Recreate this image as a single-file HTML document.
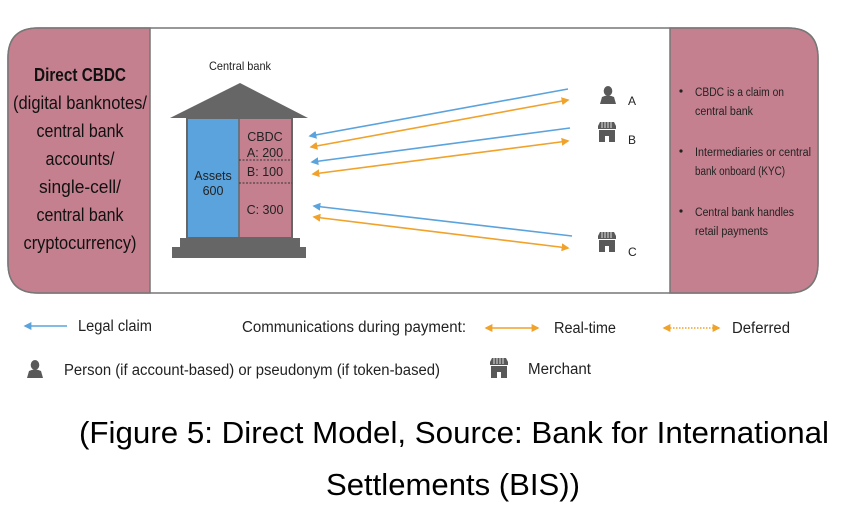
<!DOCTYPE html>
<html><head><meta charset="utf-8"><style>
html,body{margin:0;padding:0;background:#fff;}
svg{display:block;font-family:"Liberation Sans",sans-serif;}
</style></head><body>
<svg width="841" height="513" viewBox="0 0 841 513" xmlns="http://www.w3.org/2000/svg">
<defs>
<marker id="oh" viewBox="0 0 10 10" refX="8" refY="5" markerWidth="8" markerHeight="8" orient="auto-start-reverse" markerUnits="userSpaceOnUse"><path d="M0,0 L10,5 L0,10 z" fill="#f0a22a"/></marker>
<marker id="bh2" viewBox="0 0 10 10" refX="8" refY="5" markerWidth="8" markerHeight="8" orient="auto-start-reverse" markerUnits="userSpaceOnUse"><path d="M0,0 L10,5 L0,10 z" fill="#5ba3dd"/></marker>
<g id="merch"><path d="M0,4 L2,0 H16 L18,4 V7 H0 Z" fill="#595959"/><path d="M4,0 V6 M7,0 V6 M10,0 V6 M13,0 V6" stroke="#fff" stroke-width="0.8"/><path d="M1,8 H17 V20 H11 V14 H7 V20 H1 Z" fill="#595959"/></g>
<g id="pers"><ellipse cx="8" cy="5" rx="4.3" ry="5" fill="#595959"/><path d="M0,18 L2,11 Q8,8 14,11 L16,18 Z" fill="#595959"/></g>
</defs>
<path d="M38,28 H788 Q818,28 818,58 V263 Q818,293 788,293 H38 Q8,293 8,263 V58 Q8,28 38,28 Z" fill="#fff" stroke="#777" stroke-width="1.5"/>
<path d="M38,28 H150 V293 H38 Q8,293 8,263 V58 Q8,28 38,28 Z" fill="#c4808f" stroke="#777" stroke-width="1.5"/>
<path d="M670,28 H788 Q818,28 818,58 V263 Q818,293 788,293 H670 Z" fill="#c4808f" stroke="#777" stroke-width="1.5"/>
<g font-size="18" fill="#111" text-anchor="middle">
<text x="80" y="81" font-weight="bold" textLength="92" lengthAdjust="spacingAndGlyphs">Direct CBDC</text>
<text x="80" y="109" textLength="134" lengthAdjust="spacingAndGlyphs">(digital banknotes/</text>
<text x="80" y="137" textLength="87" lengthAdjust="spacingAndGlyphs">central bank</text>
<text x="80" y="165" textLength="69" lengthAdjust="spacingAndGlyphs">accounts/</text>
<text x="80" y="193" textLength="82" lengthAdjust="spacingAndGlyphs">single-cell/</text>
<text x="80" y="221" textLength="87" lengthAdjust="spacingAndGlyphs">central bank</text>
<text x="80" y="249" textLength="113" lengthAdjust="spacingAndGlyphs">cryptocurrency)</text>
</g>
<g font-size="11.5" fill="#222">
<circle cx="681" cy="91" r="1.6" fill="#222"/><text x="695" y="96" textLength="89" lengthAdjust="spacingAndGlyphs">CBDC is a claim on</text><text x="695" y="115" textLength="58" lengthAdjust="spacingAndGlyphs">central bank</text>
<circle cx="681" cy="151" r="1.6" fill="#222"/><text x="695" y="156" textLength="116" lengthAdjust="spacingAndGlyphs">Intermediaries or central</text><text x="695" y="175" textLength="90" lengthAdjust="spacingAndGlyphs">bank onboard (KYC)</text>
<circle cx="681" cy="211" r="1.6" fill="#222"/><text x="695" y="216" textLength="99" lengthAdjust="spacingAndGlyphs">Central bank handles</text><text x="695" y="235" textLength="73" lengthAdjust="spacingAndGlyphs">retail payments</text>
</g>
<text x="240" y="70" font-size="12" fill="#222" text-anchor="middle" textLength="62" lengthAdjust="spacingAndGlyphs">Central bank</text>
<path d="M170,118 L240,83 L308,118 Z" fill="#666"/>
<rect x="187" y="118" width="52" height="120" fill="#5ba3dd"/>
<rect x="239" y="118" width="53" height="120" fill="#c4808f"/>
<rect x="187" y="118" width="105" height="120" fill="none" stroke="#666" stroke-width="2"/>
<line x1="239" y1="118" x2="239" y2="238" stroke="#666" stroke-width="1.5"/>
<line x1="239" y1="160" x2="292" y2="160" stroke="#333" stroke-dasharray="2,1.5"/>
<line x1="239" y1="183" x2="292" y2="183" stroke="#333" stroke-dasharray="2,1.5"/>
<rect x="180" y="238" width="120" height="9" fill="#666"/>
<rect x="172" y="247" width="134" height="11" fill="#666"/>
<g font-size="12.5" fill="#222" text-anchor="middle">
<text x="265" y="141">CBDC</text><text x="265" y="157">A: 200</text><text x="265" y="176">B: 100</text><text x="265" y="214">C: 300</text>
<text x="213" y="180">Assets</text><text x="213" y="195">600</text>
</g>
<g stroke-width="1.6" fill="none">
<line x1="568" y1="89" x2="310" y2="136" stroke="#5ba3dd" marker-end="url(#bh2)"/>
<line x1="311" y1="147" x2="568" y2="100" stroke="#f0a22a" marker-start="url(#oh)" marker-end="url(#oh)"/>
<line x1="570" y1="128" x2="312" y2="162" stroke="#5ba3dd" marker-end="url(#bh2)"/>
<line x1="313" y1="174" x2="568" y2="141" stroke="#f0a22a" marker-start="url(#oh)" marker-end="url(#oh)"/>
<line x1="572" y1="236" x2="314" y2="206" stroke="#5ba3dd" marker-end="url(#bh2)"/>
<line x1="314" y1="217" x2="568" y2="248" stroke="#f0a22a" marker-start="url(#oh)" marker-end="url(#oh)"/>
</g>
<use href="#pers" x="600" y="86"/>
<use href="#merch" x="598" y="122"/>
<use href="#merch" x="598" y="232"/>
<g font-size="12" fill="#222"><text x="628" y="105">A</text><text x="628" y="144">B</text><text x="628" y="256">C</text></g>
<g stroke-width="1.6" fill="none">
<line x1="67" y1="326" x2="25" y2="326" stroke="#5ba3dd" marker-end="url(#bh2)"/>
<line x1="486" y1="328" x2="538" y2="328" stroke="#f0a22a" marker-start="url(#oh)" marker-end="url(#oh)"/>
<line x1="664" y1="328" x2="719" y2="328" stroke="#f0a22a" stroke-dasharray="1.5,1.5" marker-start="url(#oh)" marker-end="url(#oh)"/>
</g>
<g font-size="15.5" fill="#222">
<text x="78" y="331" textLength="74" lengthAdjust="spacingAndGlyphs">Legal claim</text>
<text x="242" y="332" textLength="224" lengthAdjust="spacingAndGlyphs">Communications during payment:</text>
<text x="554" y="333" textLength="62" lengthAdjust="spacingAndGlyphs">Real-time</text>
<text x="732" y="333" textLength="58" lengthAdjust="spacingAndGlyphs">Deferred</text>
<text x="64" y="375" textLength="376" lengthAdjust="spacingAndGlyphs">Person (if account-based) or pseudonym (if token-based)</text>
<text x="528" y="374" textLength="63" lengthAdjust="spacingAndGlyphs">Merchant</text>
</g>
<use href="#pers" x="27" y="360"/>
<use href="#merch" x="490" y="358"/>
<g font-size="31" fill="#000">
<text x="79" y="443" textLength="750" lengthAdjust="spacingAndGlyphs">(Figure 5: Direct Model, Source: Bank for International</text>
<text x="326" y="495" textLength="254" lengthAdjust="spacingAndGlyphs">Settlements (BIS))</text>
</g>
</svg>
</body></html>
